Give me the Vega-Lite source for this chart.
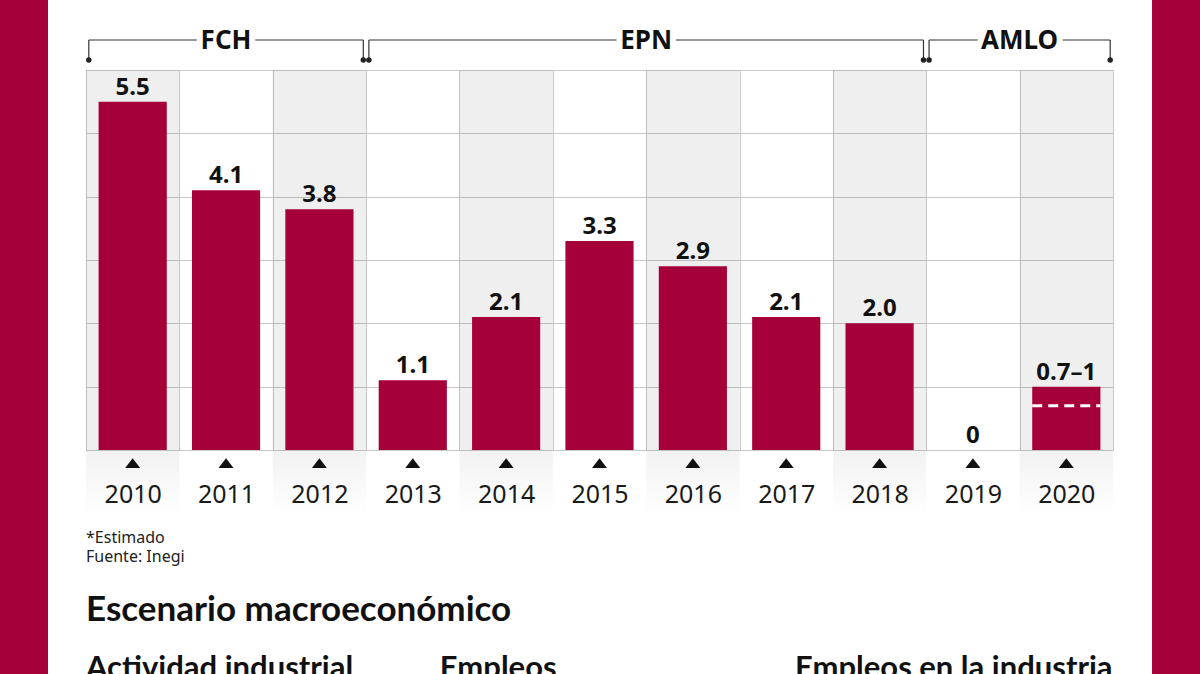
{
  "$schema": "https://vega.github.io/schema/vega-lite/v6.json",
  "width": 1027,
  "height": 380,
  "autosize": "none",
  "padding": {"left": 86, "top": 70, "right": 87, "bottom": 224},
  "background": "white",
  "datasets": {
    "growth": [
      {"year": "2010", "value": 5.5, "label": "5.5"},
      {"year": "2011", "value": 4.1, "label": "4.1"},
      {"year": "2012", "value": 3.8, "label": "3.8"},
      {"year": "2013", "value": 1.1, "label": "1.1"},
      {"year": "2014", "value": 2.1, "label": "2.1"},
      {"year": "2015", "value": 3.3, "label": "3.3"},
      {"year": "2016", "value": 2.9, "label": "2.9"},
      {"year": "2017", "value": 2.1, "label": "2.1"},
      {"year": "2018", "value": 2.0, "label": "2.0"},
      {"year": "2019", "value": 0, "label": "0"},
      {"year": "2020", "value": 1.0, "low": 0.7, "label": "0.7–1"}
    ],
    "terms": [
      {"term": "FCH", "start": 2010, "end": 2012},
      {"term": "EPN", "start": 2013, "end": 2018},
      {"term": "AMLO", "start": 2019, "end": 2020}
    ]
  },
  "layer": [
    {
      "data": {"name": "growth"},
      "layer": [
        {
          "transform": [{"filter": "toNumber(datum.year) % 2 == 0"}],
          "mark": {"type": "bar", "width": {"band": 1}, "fill": "#000", "fillOpacity": 0.063},
          "encoding": {
            "x": {
              "field": "year",
              "type": "ordinal",
              "title": null,
              "scale": {"paddingInner": 0, "paddingOuter": 0},
              "axis": {
                "labelAngle": 0,
                "labelFont": "Noto Sans",
                "labelFontSize": 25,
                "labelColor": "#1a1a1a",
                "labelPadding": 32,
                "ticks": false,
                "tickSize": 0,
                "domain": false,
                "grid": true,
                "gridColor": "#c8c8c8",
                "tickBand": "extent"
              }
            },
            "y": {
              "datum": 6,
              "type": "quantitative",
              "title": null,
              "scale": {"domain": [0, 6], "nice": false, "zero": false},
              "axis": {
                "labels": false,
                "ticks": false,
                "domain": false,
                "grid": true,
                "gridColor": "#c8c8c8",
                "values": [0, 1, 2, 3, 4, 5, 6]
              }
            },
            "y2": {"datum": 0}
          }
        },
        {
          "transform": [{"filter": "toNumber(datum.year) % 2 == 0"}],
          "mark": {
            "type": "bar",
            "width": {"band": 1},
            "fill": {
              "gradient": "linear",
              "x1": 0, "y1": 0, "x2": 0, "y2": 1,
              "stops": [
                {"offset": 0, "color": "rgba(0,0,0,0.05)"},
                {"offset": 1, "color": "rgba(0,0,0,0)"}
              ]
            }
          },
          "encoding": {
            "x": {"field": "year", "type": "ordinal"},
            "y": {"datum": 0, "type": "quantitative", "title": null, "scale": {"domain": [0, 6], "nice": false, "zero": false}},
            "y2": {"datum": -1.05}
          }
        },
        {
          "mark": {"type": "bar", "width": {"band": 0.73}, "color": "#a6003a"},
          "encoding": {
            "x": {"field": "year", "type": "ordinal"},
            "y": {"field": "value", "type": "quantitative", "title": null, "scale": {"domain": [0, 6], "nice": false, "zero": false}}
          }
        },
        {
          "mark": {"type": "text", "dy": -7, "baseline": "alphabetic", "font": "Noto Sans", "fontSize": 24, "fontWeight": "bold", "color": "#111"},
          "encoding": {
            "x": {"field": "year", "type": "ordinal"},
            "y": {"field": "value", "type": "quantitative", "title": null, "scale": {"domain": [0, 6], "nice": false, "zero": false}},
            "text": {"field": "label"}
          }
        },
        {
          "mark": {"type": "point", "shape": "M-1,0.65L1,0.65L0,-0.65Z", "size": 225, "filled": true, "opacity": 1, "color": "#111", "yOffset": 13},
          "encoding": {
            "x": {"field": "year", "type": "ordinal"},
            "y": {"datum": 0, "type": "quantitative", "title": null, "scale": {"domain": [0, 6], "nice": false, "zero": false}}
          }
        }
      ]
    },
    {
      "data": {"values": [{}]},
      "layer": [
        {
          "data": {"name": "terms"},
          "transform": [
            {"calculate": "datum.start - 0.47", "as": "x0"},
            {"calculate": "datum.end + 0.47", "as": "x1"},
            {"calculate": "(datum.start + datum.end) / 2", "as": "mid"}
          ],
          "layer": [
            {
              "mark": {"type": "rule", "color": "#333", "strokeWidth": 1.2},
              "encoding": {
                "x": {"field": "x0", "type": "quantitative", "axis": null, "scale": {"domain": [2009.5, 2020.5], "nice": false, "zero": false}},
                "x2": {"field": "x1"},
                "y": {"datum": 6.474, "type": "quantitative", "title": null, "scale": {"domain": [0, 6], "nice": false, "zero": false}}
              }
            },
            {
              "mark": {"type": "rule", "color": "#333", "strokeWidth": 1.2},
              "encoding": {
                "x": {"field": "x0", "type": "quantitative", "axis": null},
                "y": {"datum": 6.474, "type": "quantitative", "title": null},
                "y2": {"datum": 6.158}
              }
            },
            {
              "mark": {"type": "rule", "color": "#333", "strokeWidth": 1.2},
              "encoding": {
                "x": {"field": "x1", "type": "quantitative", "axis": null},
                "y": {"datum": 6.474, "type": "quantitative", "title": null},
                "y2": {"datum": 6.158}
              }
            },
            {
              "mark": {"type": "point", "shape": "circle", "filled": true, "opacity": 1, "size": 30, "color": "#222"},
              "encoding": {
                "x": {"field": "x0", "type": "quantitative", "axis": null},
                "y": {"datum": 6.158, "type": "quantitative", "title": null}
              }
            },
            {
              "mark": {"type": "point", "shape": "circle", "filled": true, "opacity": 1, "size": 30, "color": "#222"},
              "encoding": {
                "x": {"field": "x1", "type": "quantitative", "axis": null},
                "y": {"datum": 6.158, "type": "quantitative", "title": null}
              }
            },
            {
              "mark": {"type": "text", "baseline": "middle", "font": "Noto Sans", "fontSize": 26, "fontWeight": "bold", "color": "white", "stroke": "white", "strokeWidth": 12},
              "encoding": {
                "x": {"field": "mid", "type": "quantitative", "axis": null},
                "y": {"datum": 6.46, "type": "quantitative", "title": null},
                "text": {"field": "term"}
              }
            },
            {
              "mark": {"type": "text", "baseline": "middle", "font": "Noto Sans", "fontSize": 26, "fontWeight": "bold", "color": "#111"},
              "encoding": {
                "x": {"field": "mid", "type": "quantitative", "axis": null},
                "y": {"datum": 6.46, "type": "quantitative", "title": null},
                "text": {"field": "term"}
              }
            }
          ]
        },
        {
          "data": {"name": "growth"},
          "transform": [
            {"filter": "isValid(datum.low)"},
            {"calculate": "toNumber(datum.year) - 0.365", "as": "a"},
            {"calculate": "toNumber(datum.year) + 0.365", "as": "b"}
          ],
          "mark": {"type": "rule", "color": "white", "strokeWidth": 3, "strokeDash": [10, 6]},
          "encoding": {
            "x": {"field": "a", "type": "quantitative", "axis": null},
            "x2": {"field": "b"},
            "y": {"field": "low", "type": "quantitative", "title": null}
          }
        },
        {
          "mark": {"type": "text", "align": "left", "baseline": "middle", "font": "Noto Sans", "fontSize": 16, "color": "#222", "text": "*Estimado"},
          "encoding": {
            "x": {"datum": 2009.5, "type": "quantitative", "axis": null},
            "y": {"datum": -1.39, "type": "quantitative", "title": null}
          }
        },
        {
          "mark": {"type": "text", "align": "left", "baseline": "middle", "font": "Noto Sans", "fontSize": 16, "color": "#222", "text": "Fuente: Inegi"},
          "encoding": {
            "x": {"datum": 2009.5, "type": "quantitative", "axis": null},
            "y": {"datum": -1.69, "type": "quantitative", "title": null}
          }
        },
        {
          "mark": {"type": "text", "align": "left", "baseline": "middle", "font": "Lato", "fontSize": 35, "fontWeight": "bold", "color": "#111", "text": "Escenario macroeconómico"},
          "encoding": {
            "x": {"datum": 2009.5, "type": "quantitative", "axis": null},
            "y": {"datum": -2.526, "type": "quantitative", "title": null}
          }
        },
        {
          "mark": {"type": "text", "align": "left", "baseline": "alphabetic", "font": "Lato", "fontSize": 31, "fontWeight": "bold", "color": "#111", "text": "Actividad industrial"},
          "encoding": {
            "x": {"datum": 2009.5, "type": "quantitative", "axis": null},
            "y": {"datum": -3.6, "type": "quantitative", "title": null}
          }
        },
        {
          "mark": {"type": "text", "align": "left", "baseline": "alphabetic", "font": "Lato", "fontSize": 31, "fontWeight": "bold", "color": "#111", "text": "Empleos"},
          "encoding": {
            "x": {"datum": 2013.29, "type": "quantitative", "axis": null},
            "y": {"datum": -3.6, "type": "quantitative", "title": null}
          }
        },
        {
          "mark": {"type": "text", "align": "left", "baseline": "alphabetic", "font": "Lato", "fontSize": 31, "fontWeight": "bold", "color": "#111", "text": "Empleos en la industria"},
          "encoding": {
            "x": {"datum": 2017.094, "type": "quantitative", "axis": null},
            "y": {"datum": -3.6, "type": "quantitative", "title": null}
          }
        },
        {
          "mark": {"type": "rect", "color": "#a6003a"},
          "encoding": {
            "x": {"datum": 2008, "type": "quantitative", "axis": null},
            "x2": {"datum": 2009.093},
            "y": {"datum": 8, "type": "quantitative", "title": null},
            "y2": {"datum": -5}
          }
        },
        {
          "mark": {"type": "rect", "color": "#a6003a"},
          "encoding": {
            "x": {"datum": 2020.918, "type": "quantitative", "axis": null},
            "x2": {"datum": 2022},
            "y": {"datum": 8, "type": "quantitative", "title": null},
            "y2": {"datum": -5}
          }
        }
      ]
    }
  ],
  "resolve": {"scale": {"x": "independent"}},
  "config": {
    "font": "Noto Sans",
    "view": {"stroke": "#c8c8c8", "strokeWidth": 1}
  }
}
